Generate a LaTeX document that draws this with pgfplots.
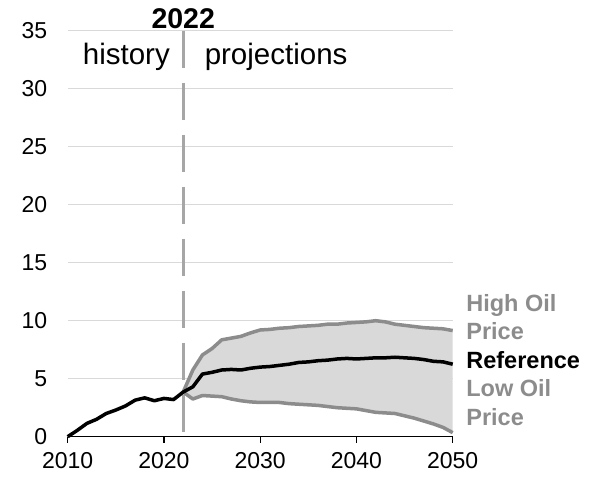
\documentclass[border=0pt]{standalone}
\usepackage{fontspec}
\setmainfont{Liberation Sans}
\usepackage{pgfplots}
\pgfplotsset{compat=1.18}
\usepgfplotslibrary{fillbetween}
\definecolor{gridc}{HTML}{D9D9D9}
\definecolor{bandc}{HTML}{D9D9D9}
\definecolor{linec}{HTML}{8C8C8C}
\definecolor{dashc}{HTML}{A6A6A6}
\begin{document}
\begin{tikzpicture}
\begin{axis}[
  at={(0,0)}, anchor=south west,
  scale only axis, width=385pt, height=406pt,
  xmin=2010, xmax=2050, ymin=0, ymax=35,
  axis lines*=left,
  y axis line style={draw=none},
  x axis line style={black, line width=1.2pt},
  xtick={2010,2020,2030,2040,2050},
  ytick={0,5,10,15,20,25,30,35},
  tick align=outside, major tick length=6pt,
  xtick style={black, line width=1.2pt},
  ytick style={draw=none},
  ymajorgrids, grid style={gridc, line width=1.5pt},
  tick label style={font=\fontsize{23}{27}\selectfont},
  yticklabel style={xshift=-11pt},
  xticklabel style={yshift=-6pt},
  /pgf/number format/assume math mode=true,
  /pgf/number format/1000 sep={},
  clip=false,
]
\addplot[name path=high, draw=none, forget plot] coordinates {(2022,3.85)(2023,5.75)(2024,7.05)(2025,7.6)(2026,8.35)(2027,8.5)(2028,8.65)(2029,8.95)(2030,9.2)(2031,9.25)(2032,9.35)(2033,9.4)(2034,9.5)(2035,9.55)(2036,9.6)(2037,9.7)(2038,9.7)(2039,9.8)(2040,9.85)(2041,9.9)(2042,10.0)(2043,9.9)(2044,9.7)(2045,9.6)(2046,9.5)(2047,9.4)(2048,9.35)(2049,9.3)(2050,9.15)};
\addplot[name path=low, draw=none, forget plot] coordinates {(2022,3.85)(2023,3.25)(2024,3.55)(2025,3.5)(2026,3.45)(2027,3.25)(2028,3.1)(2029,3.0)(2030,2.95)(2031,2.95)(2032,2.95)(2033,2.85)(2034,2.8)(2035,2.75)(2036,2.7)(2037,2.6)(2038,2.5)(2039,2.45)(2040,2.4)(2041,2.25)(2042,2.1)(2043,2.05)(2044,2.0)(2045,1.8)(2046,1.6)(2047,1.35)(2048,1.1)(2049,0.8)(2050,0.35)};
\addplot[bandc, forget plot] fill between[of=high and low];
\addplot[dashc, line width=3pt, dash pattern=on 37pt off 15pt] coordinates {(2022,35)(2022,0)};
\addplot[linec, line width=3.5pt, line join=round] coordinates {(2022,3.85)(2023,5.75)(2024,7.05)(2025,7.6)(2026,8.35)(2027,8.5)(2028,8.65)(2029,8.95)(2030,9.2)(2031,9.25)(2032,9.35)(2033,9.4)(2034,9.5)(2035,9.55)(2036,9.6)(2037,9.7)(2038,9.7)(2039,9.8)(2040,9.85)(2041,9.9)(2042,10.0)(2043,9.9)(2044,9.7)(2045,9.6)(2046,9.5)(2047,9.4)(2048,9.35)(2049,9.3)(2050,9.15)};
\addplot[linec, line width=3.5pt, line join=round] coordinates {(2022,3.85)(2023,3.25)(2024,3.55)(2025,3.5)(2026,3.45)(2027,3.25)(2028,3.1)(2029,3.0)(2030,2.95)(2031,2.95)(2032,2.95)(2033,2.85)(2034,2.8)(2035,2.75)(2036,2.7)(2037,2.6)(2038,2.5)(2039,2.45)(2040,2.4)(2041,2.25)(2042,2.1)(2043,2.05)(2044,2.0)(2045,1.8)(2046,1.6)(2047,1.35)(2048,1.1)(2049,0.8)(2050,0.35)};
\addplot[black, line width=3.5pt, line join=round] coordinates {(2010,0)(2011,0.55)(2012,1.15)(2013,1.5)(2014,2.0)(2015,2.3)(2016,2.65)(2017,3.15)(2018,3.35)(2019,3.1)(2020,3.3)(2021,3.2)(2022,3.85)(2023,4.3)(2024,5.4)(2025,5.55)(2026,5.75)(2027,5.8)(2028,5.75)(2029,5.9)(2030,6.0)(2031,6.05)(2032,6.15)(2033,6.25)(2034,6.4)(2035,6.45)(2036,6.55)(2037,6.6)(2038,6.7)(2039,6.75)(2040,6.7)(2041,6.75)(2042,6.8)(2043,6.8)(2044,6.85)(2045,6.8)(2046,6.75)(2047,6.65)(2048,6.5)(2049,6.45)(2050,6.25)};
\node[anchor=base, inner sep=0pt, font=\fontsize{28.5}{33}\selectfont\bfseries] at (axis cs:2022,35.2) {2022};
\node[anchor=base east, inner sep=0pt, font=\fontsize{29.5}{34}\selectfont] at (axis cs:2020.63,32.1) {history};
\node[anchor=base west, inner sep=0pt, font=\fontsize{29.5}{34}\selectfont] at (axis cs:2024.22,32.1) {projections};
\node[anchor=base west, inner sep=0pt, font=\fontsize{23.5}{28}\selectfont\bfseries, text=linec] at (axis cs:2051.4,10.78) {High Oil};
\node[anchor=base west, inner sep=0pt, font=\fontsize{23.5}{28}\selectfont\bfseries, text=linec] at (axis cs:2051.4,8.34) {Price};
\node[anchor=base west, inner sep=0pt, font=\fontsize{23.5}{28}\selectfont\bfseries, text=black] at (axis cs:2051.4,5.9) {Reference};
\node[anchor=base west, inner sep=0pt, font=\fontsize{23.5}{28}\selectfont\bfseries, text=linec] at (axis cs:2051.4,3.45) {Low Oil};
\node[anchor=base west, inner sep=0pt, font=\fontsize{23.5}{28}\selectfont\bfseries, text=linec] at (axis cs:2051.4,1.0) {Price};
\end{axis}
\pgfresetboundingbox
\useasboundingbox (-67.7pt,-40.3pt) rectangle (534.3pt,436.7pt);
\end{tikzpicture}
\end{document}
